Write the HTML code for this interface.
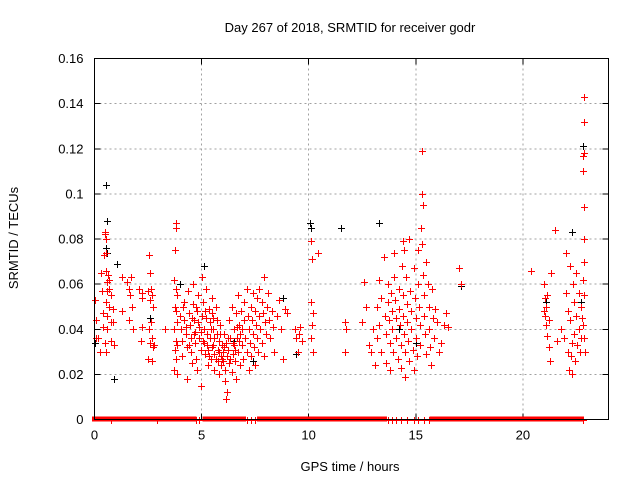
<!DOCTYPE html>
<html><head><meta charset="utf-8"><style>
html,body{margin:0;padding:0;background:#fff}
svg{display:block;font-family:"Liberation Sans",sans-serif}
</style></head><body>
<svg id="chart" width="640" height="480" viewBox="0 0 640 480">
<rect width="640" height="480" fill="#fff"/>
<text x="350" y="32" font-size="13" text-anchor="middle">Day 267 of 2018, SRMTID for receiver godr</text>
<text x="350" y="471" font-size="13" text-anchor="middle">GPS time / hours</text>
<text transform="translate(18,238) rotate(-90)" font-size="13" text-anchor="middle">SRMTID / TECUs</text>
<g id="grid" shape-rendering="crispEdges"></g><g id="ticks"></g><g id="zero" shape-rendering="crispEdges"></g><g id="black" shape-rendering="crispEdges"></g><g id="red" shape-rendering="crispEdges"></g>
<rect x="94.5" y="58.5" width="514" height="361" fill="none" stroke="#000" stroke-width="1" shape-rendering="crispEdges"/>
</svg>
<script>
const xTicks=[0,5,10,15,20];
const yTicks=[0,0.02,0.04,0.06,0.08,0.1,0.12,0.14,0.16];
const yTickLabels=["0","0.02","0.04","0.06","0.08","0.1","0.12","0.14","0.16"];
const redPts=[[0.02,0.053],[0.05,0.044],[0.08,0.036],[0.3,0.065],[0.35,0.057],[0.4,0.047],[0.4,0.041],[0.45,0.073],[0.5,0.083],[0.5,0.082],[0.55,0.080],[0.55,0.074],[0.55,0.066],[0.6,0.061],[0.6,0.057],[0.55,0.052],[0.6,0.046],[0.6,0.040],[0.5,0.034],[0.55,0.030],[0.65,0.064],[0.7,0.062],[0.7,0.058],[0.75,0.055],[0.7,0.050],[0.75,0.043],[0.75,0.035],[0.85,0.049],[0.85,0.043],[0.9,0.033],[0.25,0.030],[0.15,0.036],
[1.3,0.063],[1.5,0.061],[1.6,0.058],[1.7,0.063],[1.65,0.055],[1.75,0.050],[1.3,0.048],[1.6,0.044],[2.1,0.058],[2.2,0.056],[2.2,0.054],[2.15,0.035],[2.2,0.041],[1.8,0.040],
[2.55,0.073],[2.6,0.065],[2.65,0.058],[2.5,0.057],[2.7,0.055],[2.6,0.053],[2.75,0.050],[2.65,0.043],[2.55,0.040],[2.7,0.036],[2.6,0.034],[2.8,0.033],[2.75,0.032],[2.5,0.027],[2.7,0.026],
[3.8,0.087],[3.8,0.085],[3.75,0.075],[3.7,0.062],[3.8,0.058],[3.85,0.055],[3.75,0.050],[3.8,0.048],[3.85,0.043],[3.7,0.040],[3.8,0.035],[3.85,0.033],[3.75,0.031],[3.8,0.027],[3.7,0.022],[3.85,0.020],[3.3,0.040],
[4.0,0.046],[4.05,0.040],[4.1,0.035],[4.1,0.028],[4.2,0.052],[4.2,0.044],[4.25,0.038],[4.3,0.032],[4.3,0.018],[4.35,0.057],[4.4,0.047],[4.45,0.042],[4.5,0.036],[4.5,0.030],[4.55,0.025],[4.6,0.060],[4.6,0.051],[4.65,0.044],[4.7,0.039],[4.7,0.034],[4.75,0.027],[4.8,0.022],[4.8,0.048],[4.85,0.055],[4.9,0.041],[4.9,0.036],[4.95,0.031],[4.95,0.015],[5.0,0.063],[5.0,0.046],
[4.15,0.050],[4.25,0.041],[4.4,0.033],[4.55,0.045],[4.65,0.038],[4.75,0.050],[4.85,0.043],[4.95,0.039],[5.05,0.035],[5.15,0.048],
[5.05,0.052],[5.1,0.040],[5.1,0.034],[5.15,0.029],[5.2,0.058],[5.2,0.045],[5.25,0.038],[5.3,0.031],[5.3,0.024],[5.35,0.049],[5.4,0.043],[5.4,0.036],[5.45,0.027],[5.5,0.054],[5.5,0.047],[5.55,0.040],[5.55,0.033],[5.6,0.029],[5.6,0.022],[5.65,0.050],[5.7,0.044],[5.7,0.038],[5.75,0.031],[5.75,0.026],[5.8,0.035],[5.8,0.020],[5.85,0.042],[5.9,0.028],[5.9,0.024],[5.95,0.033],
[5.25,0.033],[5.35,0.028],[5.45,0.040],[5.5,0.032],[5.6,0.036],[5.65,0.027],[5.8,0.030],[5.85,0.038],[5.95,0.027],[5.55,0.045],
[6.0,0.030],[6.0,0.026],[6.05,0.038],[6.1,0.022],[6.1,0.017],[6.15,0.034],[6.2,0.028],[6.2,0.012],[6.15,0.009],[6.25,0.031],[6.3,0.025],[6.3,0.044],[6.35,0.036],[6.4,0.021],[6.4,0.050],[6.45,0.029],[6.5,0.033],[6.5,0.040],[6.55,0.026],[6.6,0.047],[6.6,0.018],[6.65,0.036],[6.7,0.030],[6.7,0.055],[6.75,0.042],[6.8,0.024],[6.8,0.038],[6.85,0.048],[6.9,0.033],[6.95,0.027],[7.0,0.044],
[6.05,0.032],[6.25,0.036],[6.35,0.027],[6.45,0.034],[6.55,0.031],[6.65,0.041],[6.75,0.035],[6.9,0.040],
[7.0,0.052],[7.05,0.036],[7.1,0.030],[7.1,0.058],[7.15,0.046],[7.2,0.040],[7.2,0.022],[7.25,0.034],[7.3,0.050],[7.3,0.028],[7.35,0.044],[7.4,0.038],[7.4,0.056],[7.45,0.032],[7.5,0.048],[7.5,0.024],[7.55,0.042],[7.6,0.054],[7.6,0.036],[7.65,0.030],[7.7,0.046],[7.7,0.058],[7.75,0.040],[7.8,0.034],[7.8,0.052],[7.85,0.047],[7.9,0.028],[7.9,0.063],[7.95,0.043],[8.0,0.038],
[8.05,0.050],[8.1,0.056],[8.15,0.044],[8.2,0.036],[8.3,0.048],[8.35,0.041],[8.4,0.030],[8.5,0.046],[8.6,0.053],[8.7,0.040],[8.8,0.027],[8.9,0.049],[9.0,0.047],
[9.35,0.040],[9.4,0.036],[9.5,0.030],[9.55,0.038],[9.6,0.041],[9.7,0.035],
[10.1,0.079],[10.15,0.071],[10.1,0.052],[10.2,0.047],[10.15,0.042],[10.1,0.036],[10.2,0.030],[10.45,0.074],
[11.7,0.043],[11.75,0.040],[11.7,0.030],[12.5,0.043],[12.6,0.061],[12.7,0.050],[12.8,0.033],[12.9,0.030],[13.0,0.040],[13.1,0.024],[13.2,0.050],[13.2,0.036],[13.3,0.062],[13.3,0.042],[13.4,0.054],[13.4,0.030],
[13.5,0.072],[13.55,0.046],[13.6,0.038],[13.6,0.025],[13.7,0.060],[13.7,0.052],[13.75,0.044],[13.8,0.034],[13.8,0.022],[13.85,0.056],[13.9,0.048],[13.9,0.040],[13.95,0.030],[14.0,0.074],[14.0,0.063],[14.05,0.053],[14.1,0.045],[14.1,0.036],[14.15,0.027],[14.2,0.058],[14.2,0.049],[14.25,0.042],[14.3,0.033],[14.3,0.023],[14.35,0.068],[14.4,0.055],[14.4,0.079],[14.45,0.075],[14.4,0.046],[14.45,0.038],[14.5,0.030],[14.5,0.019],[14.55,0.063],[14.6,0.051],[14.6,0.043],[14.65,0.035],[14.7,0.026],[14.7,0.080],[14.75,0.057],[14.8,0.048],[14.8,0.040],[14.85,0.031],[14.9,0.022],[14.9,0.067],[14.95,0.054],[15.0,0.045],[15.0,0.036],[15.05,0.028],[15.1,0.075],[15.1,0.060],[15.15,0.050],[15.2,0.042],[15.2,0.033],[15.25,0.085],[15.3,0.119],[15.3,0.100],[15.35,0.095],[15.3,0.078],[15.35,0.064],[15.4,0.055],[15.4,0.046],[15.45,0.038],[15.5,0.029],[15.5,0.070],[15.55,0.060],[15.6,0.050],[15.6,0.040],[15.65,0.032],[15.7,0.024],[15.75,0.058],[15.8,0.045],[15.85,0.036],[15.9,0.049],[16.0,0.043],[16.1,0.030],[16.2,0.034],[16.3,0.042],[16.4,0.047],
[16.5,0.041],[17.0,0.067],[17.1,0.060],[20.4,0.066],
[21.0,0.060],[21.05,0.054],[21.1,0.050],[21.05,0.046],[21.1,0.042],[21.15,0.037],[21.2,0.032],[21.0,0.048],[21.15,0.055],[21.2,0.044],[21.25,0.026],[21.5,0.084],[21.3,0.065],[21.6,0.035],
[21.8,0.040],[21.9,0.036],[22.0,0.074],[22.0,0.056],[22.1,0.048],[22.1,0.030],[22.15,0.022],[22.2,0.068],[22.2,0.044],[22.25,0.028],[22.3,0.034],[22.3,0.020],[22.35,0.060],[22.4,0.052],[22.4,0.038],[22.45,0.026],[22.5,0.065],[22.5,0.046],[22.55,0.033],[22.6,0.056],[22.6,0.040],[22.65,0.030],[22.7,0.050],[22.7,0.036],[22.75,0.045],[22.85,0.143],[22.85,0.132],[22.85,0.118],[22.8,0.117],[22.8,0.110],[22.85,0.094],[22.85,0.080],[22.85,0.070],[22.8,0.062],[22.85,0.055],[22.8,0.042],[22.85,0.036],[22.9,0.030]];
const blackPts=[[0.02,0.034],[0.55,0.104],[0.6,0.088],[0.55,0.076],[0.6,0.074],[1.05,0.069],[0.9,0.018],[2.6,0.045],[4.0,0.060],[5.1,0.068],[6.5,0.035],[7.4,0.026],[8.8,0.054],[9.4,0.029],[10.05,0.087],[10.1,0.085],[11.5,0.085],[13.3,0.087],[14.2,0.040],[15.0,0.034],[17.1,0.059],[21.1,0.052],[22.3,0.083],[22.8,0.121],[22.7,0.052]];
const zeroRanges=[[0.05,0.65],[0.85,2.0],[2.1,2.7],[3.0,3.7],[3.85,4.6],[5.2,6.9],[7.75,13.5],[15.8,16.5],[16.7,17.7],[17.8,19.9],[20.0,21.1],[21.3,21.6],[21.9,22.3],[22.4,22.7]];
const zeroTicks=[0.75,2.9,4.75,4.9,7.1,7.3,7.5,13.7,13.9,14.1,14.3,14.6,14.9,15.1,15.4,15.6,22.8];

const L=94.5,R=608.5,T=58.5,B=419.5;
const sx=h=>L+(h/24)*(R-L);
const sy=v=>B-(v/0.16)*(B-T);
const NS="http://www.w3.org/2000/svg";
function mk(tag,attrs,parent){const e=document.createElementNS(NS,tag);for(const k in attrs)e.setAttribute(k,attrs[k]);parent.appendChild(e);return e;}
const grid=document.getElementById('grid'),ticks=document.getElementById('ticks');
yTicks.forEach((v,i)=>{
  const y=sy(v);
  if(i>0&&i<yTicks.length-1){const g=mk('line',{x1:L,x2:R,y1:y,y2:y,stroke:'#a0a0a0','stroke-dasharray':'2,3'},grid);
  
  }
  const t=mk('line',{x1:L,x2:L+6,y1:y,y2:y,stroke:'#000','shape-rendering':'crispEdges'},ticks);
  
  
  mk('line',{x1:R-6,x2:R,y1:y,y2:y,stroke:'#000','shape-rendering':'crispEdges'},ticks);
  const tx=mk('text',{x:L-11,y:y+4.5,'font-size':'13','text-anchor':'end'},ticks);
  tx.textContent=yTickLabels[i];
  
  
});
xTicks.forEach(h=>{
  const x=sx(h);
  if(h>0){const g=mk('line',{x1:x,x2:x,y1:T,y2:B,stroke:'#a0a0a0','stroke-dasharray':'2,3'},grid);
  
  }
  const t=mk('line',{x1:x,x2:x,y1:B,y2:B-6,stroke:'#000','shape-rendering':'crispEdges'},ticks);
  
  
  mk('line',{x1:x,x2:x,y1:T,y2:T+6,stroke:'#000','shape-rendering':'crispEdges'},ticks);
  const tx=mk('text',{x:x,y:B+20,'font-size':'13','text-anchor':'middle'},ticks);
  tx.textContent=String(h);
  
  
});
function plus(parent,h,v,color,name){
  const x=Math.round(sx(h))+0.5,y=Math.round(sy(v))+0.5;
  const p=mk('path',{d:`M${x-3.5} ${y}H${x+3.5}M${x} ${y-3.5}V${y+3.5}`,stroke:color,'stroke-width':'1',fill:'none'},parent);
  
  
}
const zg=document.getElementById('zero');
zeroRanges.forEach(r=>{
  const x1=sx(r[0])-3.5,x2=sx(r[1])+3.5;
  const z=mk('rect',{x:x1,y:B-3,width:x2-x1,height:5,fill:'#ff0000'},zg);
  
  
});
zeroTicks.forEach(h=>plus(zg,h,0,'#ff0000','zero-point'));
const bg=document.getElementById('black'),rg=document.getElementById('red');
blackPts.forEach(p=>plus(bg,p[0],p[1],'#000000','black-point'));
redPts.forEach(p=>plus(rg,p[0],p[1],'#ff0000','red-point'));
</script>
</body></html>
